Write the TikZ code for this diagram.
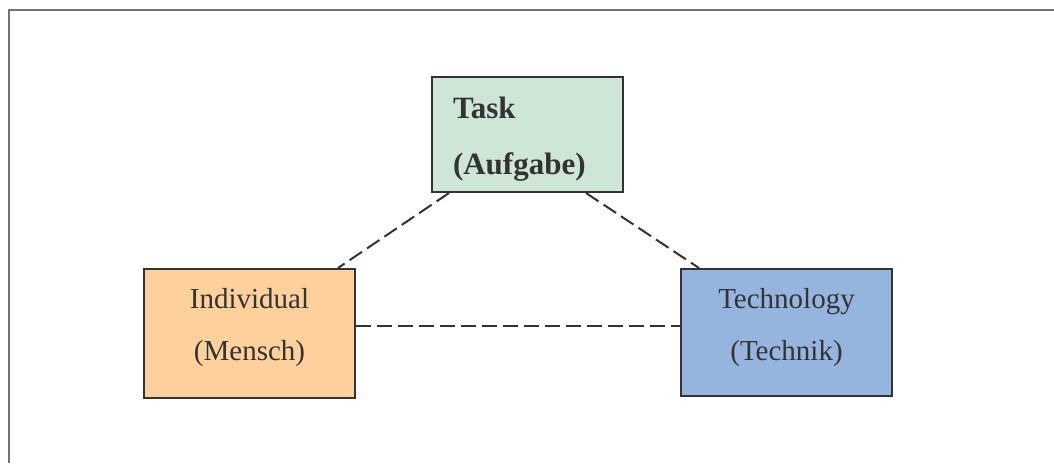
\documentclass[tikz,border=0pt]{standalone}
\usepackage{fontspec}
\setmainfont{Liberation Serif}
\usetikzlibrary{positioning}
\definecolor{taskgreen}{HTML}{CDE6D5}
\definecolor{manorange}{HTML}{FDD09C}
\definecolor{techblue}{HTML}{95B5DF}
\definecolor{inkgray}{HTML}{333333}
\begin{document}
\begin{tikzpicture}[
    x=0.5pt, y=-0.5pt,
    box/.style={rectangle, draw=inkgray, line width=1pt, inner sep=0pt},
    txt/.style={text=inkgray, align=center, font=\fontsize{14.5}{26}\selectfont},
    link/.style={draw=inkgray, line width=1pt, dash pattern=on 7.5pt off 3pt},
]
\useasboundingbox (0,0) rectangle (1054,463);
% outer frame (left and top edge)
\draw[gray!90!black, line width=1pt] (9,463) -- (9,10) -- (1054,10);

% the three boxes
\node[box, fill=taskgreen, minimum width=95.5pt, minimum height=57.5pt] (task) at (527.5,134.5) {};
\node[box, fill=manorange, minimum width=105.5pt, minimum height=64.5pt] (indiv) at (249.5,333.5) {};
\node[box, fill=techblue, minimum width=105.5pt, minimum height=63.5pt] (tech) at (786.5,332.5) {};

% box texts
\node[txt, align=left, text width=74.5pt, inner sep=0pt,
      font=\fontsize{15.5}{28}\selectfont\bfseries] (tasktext) at (527.5,139) {Task\\(Aufgabe)};
\node[txt] (indivtext) at (249.5,328) {Individual\\(Mensch)};
\node[txt] (techtext) at (786.5,328) {Technology\\(Technik)};

% dashed links
\draw[link] ([xshift=9pt]task.south west) -- ([xshift=-9pt]indiv.north east);
\draw[link] ([xshift=-19pt]task.south east) -- ([xshift=9.5pt]tech.north west);
\draw[link] ([yshift=3.75pt]indiv.east) -- ([yshift=3.75pt]indiv.east -| tech.west);
\end{tikzpicture}
\end{document}
